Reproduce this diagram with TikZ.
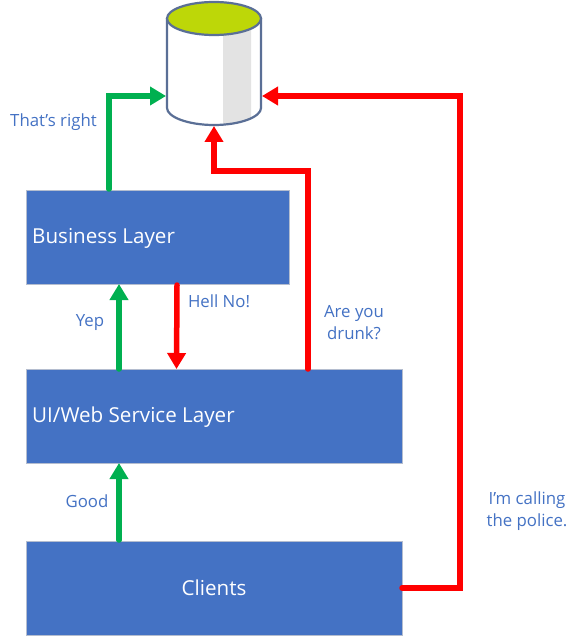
\documentclass[tikz,border=0pt]{standalone}
\usepackage{fontspec}
\setmainfont{Open Sans}
\usetikzlibrary{arrows.meta}
\definecolor{boxblue}{HTML}{4472C4}
\definecolor{boxedge}{HTML}{B4BDCF}
\definecolor{cyledge}{HTML}{5A6F96}
\definecolor{topfill}{HTML}{BDD708}
\definecolor{band}{HTML}{E3E3E3}
\definecolor{okgreen}{HTML}{00B050}
\definecolor{nored}{HTML}{FF0000}
\tikzset{
  layer/.style={fill=boxblue,draw=boxedge,line width=0.8pt,text=white,font=\fontsize{20.6}{24}\selectfont,inner sep=0pt,minimum height=94pt},
  layertext/.style={anchor=west,text=white,font=\fontsize{20.6}{24}\selectfont,inner sep=0pt},
  note/.style={text=boxblue,font=\fontsize{16.8}{22}\selectfont,align=center,inner sep=0pt},
  conn/.style={line width=5.5pt,line join=miter,line cap=round,-{Triangle[length=16pt,width=18pt]}},
  yes/.style={conn,draw=okgreen},
  no/.style={conn,draw=nored},
}
\begin{document}
\begin{tikzpicture}[x=1pt,y=-1pt]
\useasboundingbox (0,0) rectangle (579,636);
\fill[white] (0,0) rectangle (579,636);
% database
\fill[white] (167,18) -- (167,108) .. controls (167,117) and (188,125) .. (214,125) .. controls (240,125) and (261,117) .. (261,108) -- (261,18) -- cycle;
\fill[band] (223,30) -- (251,28) -- (251,118.5) .. controls (243,122) and (233,124) .. (223,124.5) -- cycle;
\draw[cyledge,line width=2.2pt] (167,18) -- (167,108) .. controls (167,117) and (188,125) .. (214,125) .. controls (240,125) and (261,117) .. (261,108) -- (261,18);
\draw[cyledge,line width=2.2pt,fill=topfill] (214,18.5) ellipse[x radius=47,y radius=16.5];
\coordinate (dbleft) at (166,96);
\coordinate (dbright) at (262,96);
\coordinate (dbbottom) at (214,126);
% layers
\node[layer,minimum width=263pt] (business) at (157.5,237) {};
\node[layertext] (businesstext) at (32,238) {Business Layer};
\node[layer,minimum width=376pt] (service) at (214,416) {};
\node[layertext] (servicetext) at (32,417) {UI/Web Service Layer};
\node[layer,minimum width=376pt] (clients) at (214,588) {Clients};
% connector ends
\coordinate (bizout) at (109,189);
\coordinate (bizin) at (119,284);
\coordinate (svcup) at (119,369);
\coordinate (svcin) at (119,463);
\coordinate (cliup) at (119,540);
\coordinate (bizdown) at (177,285);
\coordinate (svcdown) at (176.5,369);
\coordinate (svcred) at (308,369);
\coordinate (cliout) at (402,588);
% connectors
\draw[yes] (bizout) |- (dbleft);
\draw[yes] (svcup) -- (bizin);
\draw[yes] (cliup) -- (svcin);
\draw[no] (bizdown) -- (svcdown);
\draw[no] (svcred) -- (308,171) -- (214,171) -- (dbbottom);
\draw[no] (cliout) -- (460,588) -- (460,96) -- (dbright);
% labels
\node[note] (l1) at (53.5,122) {That’s right};
\node[note] (l2) at (90,323) {Yep};
\node[note] (l3) at (219,301) {Hell No!};
\node[note] (l4) at (354,323) {Are you\\drunk?};
\node[note] (l5) at (87,501) {Good};
\node[note] (l6) at (527,511) {I’m calling\\the police.};
\end{tikzpicture}
\end{document}
